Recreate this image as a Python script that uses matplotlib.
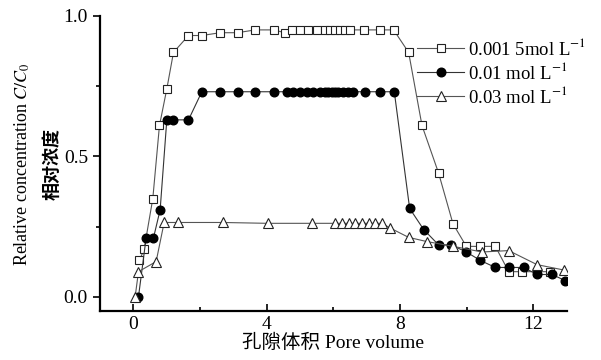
import matplotlib
matplotlib.use("Agg")
import matplotlib.pyplot as plt

plt.rcParams['font.family'] = ['Liberation Serif', 'Noto Sans CJK SC']
plt.rcParams['mathtext.fontset'] = 'stix'

# 0.001 5 mol/L
pv_a = [0.19, 0.33, 0.59, 0.79, 1.01, 1.21, 1.66, 2.06, 2.61, 3.13, 3.66, 4.21,
        4.55, 4.75, 5.0, 5.25, 5.5, 5.75, 5.9, 6.05, 6.2, 6.35, 6.5, 6.91, 7.39, 7.81,
        8.26, 8.66, 9.16, 9.59, 9.99, 10.41, 10.86, 11.26, 11.66, 12.1, 12.5]
c_a = [0.13, 0.17, 0.35, 0.61, 0.74, 0.87, 0.93, 0.93, 0.94, 0.94, 0.95, 0.95,
       0.94, 0.95, 0.95, 0.95, 0.95, 0.95, 0.95, 0.95, 0.95, 0.95, 0.95, 0.95, 0.95, 0.95,
       0.87, 0.61, 0.44, 0.26, 0.18, 0.18, 0.18, 0.09, 0.09, 0.09, 0.09]

# 0.01 mol/L
pv_b = [0.16, 0.39, 0.61, 0.81, 1.01, 1.21, 1.66, 2.06, 2.59, 3.13, 3.66, 4.21,
        4.6, 4.8, 5.0, 5.2, 5.4, 5.6, 5.75, 5.85, 5.95, 6.05, 6.15, 6.3, 6.45, 6.6,
        6.96, 7.39, 7.83, 8.29, 8.71, 9.16, 9.54, 9.99, 10.41, 10.86, 11.26, 11.71,
        12.11, 12.56, 12.96]
c_b = [0.0, 0.21, 0.21, 0.31, 0.63, 0.63, 0.63, 0.73, 0.73, 0.73, 0.73, 0.73,
       0.73, 0.73, 0.73, 0.73, 0.73, 0.73, 0.73, 0.73, 0.73, 0.73, 0.73, 0.73, 0.73, 0.73,
       0.73, 0.73, 0.73, 0.315, 0.24, 0.185, 0.185, 0.16, 0.13, 0.105, 0.105, 0.105,
       0.08, 0.08, 0.058]

# 0.03 mol/L
pv_c = [0.06, 0.16, 0.69, 0.93, 1.36, 2.69, 4.03, 5.36, 6.06, 6.26, 6.46, 6.66,
        6.86, 7.06, 7.26, 7.46, 7.71, 8.26, 8.81, 9.6, 10.46, 11.26, 12.11, 12.91]
c_c = [0.0, 0.09, 0.126, 0.265, 0.265, 0.265, 0.262, 0.262, 0.262, 0.262, 0.262, 0.262,
       0.262, 0.262, 0.262, 0.262, 0.245, 0.212, 0.197, 0.18, 0.16, 0.165, 0.115, 0.096]

labels = [r"0.001 5mol L$^{-1}$", r"0.01 mol L$^{-1}$", r"0.03 mol L$^{-1}$"]

fig = plt.figure(figsize=(6.01, 3.6), dpi=100)
ax = fig.add_axes([0.166, 0.136, 0.777, 0.82])

ax.plot(pv_a, c_a, color='#555555', lw=0.8, marker='s', ms=5.5,
        mfc='white', mec='#222222', mew=0.8, label=labels[0])
ax.plot(pv_b, c_b, color='#333333', lw=0.8, marker='o', ms=6.2,
        mfc='black', mec='black', label=labels[1])
ax.plot(pv_c, c_c, color='#555555', lw=0.8, marker='^', ms=7.5,
        mfc='white', mec='#222222', mew=0.8, label=labels[2])

ax.set_xlim(-1, 13)
ax.set_ylim(-0.05, 1.0)
ax.set_xticks([0, 4, 8, 12])
ax.set_xticks([2, 6, 10], minor=True)
ax.set_yticks([0.0, 0.5, 1.0])
ax.set_yticks([0.25, 0.75], minor=True)
ax.set_yticklabels(['0.0', '0.5', '1.0'])
ax.tick_params(axis='x', which='both', direction='in', labelsize=14, width=1.2)
ax.tick_params(axis='x', which='major', length=5)
ax.tick_params(axis='x', which='minor', length=3)
ax.tick_params(axis='y', which='both', direction='out', labelsize=14, width=1.2)
ax.tick_params(axis='y', which='major', length=5)
ax.tick_params(axis='y', which='minor', length=3)
for s in ['top', 'right']:
    ax.spines[s].set_visible(False)
for s in ['left', 'bottom']:
    ax.spines[s].set_linewidth(1.6)

ax.set_xlabel("孔隙体积 Pore volume", fontsize=14, labelpad=1)

fig.text(0.037, 0.545, r"Relative concentration $C/C_0$", rotation=90,
         ha='center', va='center', fontsize=13)
fig.text(0.087, 0.545, "相对浓度", rotation=90, ha='center', va='center',
         fontsize=13, fontweight='bold')

ax.legend(loc='upper left', bbox_to_anchor=(0.68, 0.925), frameon=False,
          fontsize=13.5, handlelength=2.5, handletextpad=0.2, labelspacing=0.15,
          borderaxespad=0, borderpad=0)

fig.savefig("out.png", dpi=100)
